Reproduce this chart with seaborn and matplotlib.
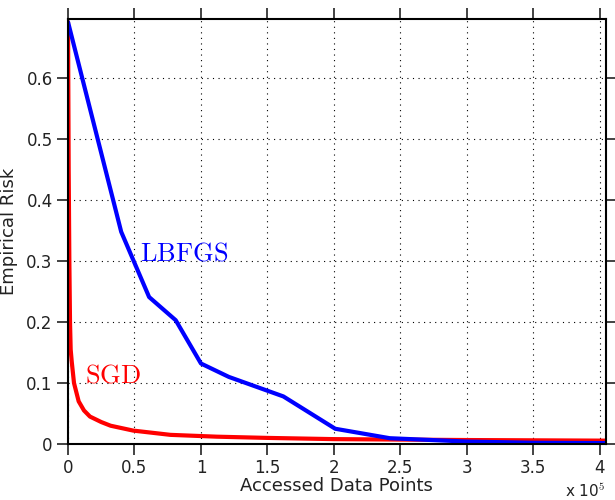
import numpy as np
import pandas as pd
import matplotlib
matplotlib.use("Agg")
import matplotlib.pyplot as plt
import seaborn as sns

# accessed data points in units of 1e5, empirical risk
lbfgs_x = [0.0, 0.40, 0.61, 0.81, 1.0, 1.21, 1.62, 2.01, 2.42, 3.0, 3.5, 4.05]
lbfgs_y = [0.692, 0.348, 0.241, 0.203, 0.132, 0.110, 0.078, 0.025, 0.0095, 0.004, 0.002, 0.0015]

sgd_x = [0.0, 0.005, 0.01, 0.015, 0.02, 0.028, 0.045, 0.08, 0.12, 0.165, 0.25,
         0.32, 0.49, 0.77, 1.12, 1.5, 2.0, 3.0, 4.05]
sgd_y = [0.692, 0.45, 0.30, 0.20, 0.155, 0.135, 0.10, 0.07, 0.055, 0.045, 0.036,
         0.030, 0.022, 0.015, 0.012, 0.010, 0.008, 0.0065, 0.0055]

x_ticks = [0, 0.5, 1, 1.5, 2, 2.5, 3, 3.5, 4]
x_ticklabels = ["0", "0.5", "1", "1.5", "2", "2.5", "3", "3.5", "4"]
y_ticks = [0, 0.1, 0.2, 0.3, 0.4, 0.5, 0.6]
y_ticklabels = ["0", "0.1", "0.2", "0.3", "0.4", "0.5", "0.6"]

sns.set_theme(style="white")
plt.rcParams['font.family'] = ['DejaVu Sans']
plt.rcParams['mathtext.fontset'] = 'cm'

df = pd.concat([
    pd.DataFrame({'x': sgd_x, 'risk': sgd_y, 'method': 'SGD'}),
    pd.DataFrame({'x': lbfgs_x, 'risk': lbfgs_y, 'method': 'LBFGS'}),
], ignore_index=True)

fig = plt.figure(figsize=(6.15, 5.0), dpi=100)
ax = fig.add_axes([0.1106, 0.112, 0.8744, 0.85])

sns.lineplot(data=df, x='x', y='risk', hue='method', sort=False, estimator=None,
             palette={'SGD': '#ff0000', 'LBFGS': '#0000ff'}, linewidth=3,
             legend=False, ax=ax)

ax.set_xlim(0, 4.045)
ax.set_ylim(0, 0.697)
ax.set_xticks(x_ticks)
ax.set_xticklabels(x_ticklabels)
ax.set_yticks(y_ticks)
ax.set_yticklabels(y_ticklabels)

ax.grid(True, color='black', linestyle=(0, (1, 4)), linewidth=0.8)
for s in ax.spines.values():
    s.set_visible(True)
    s.set_color('black')
    s.set_linewidth(1.5)
ax.tick_params(axis='both', which='both', direction='out', length=8, width=1.2,
               color='#222222', labelsize=12, labelcolor='#222222',
               top=True, right=True, bottom=True, left=True, pad=3)

ax.set_xlabel('Accessed Data Points', fontsize=13, color='#222222', labelpad=0)
ax.set_ylabel('Empirical Risk', fontsize=13, color='#222222', labelpad=6)

ax.text(0.54, 0.313, r'$\mathrm{LBFGS}$', color='#0000ff', fontsize=19, va='center', ha='left')
ax.text(0.125, 0.113, r'$\mathrm{SGD}$', color='#ff0000', fontsize=19, va='center', ha='left')
ax.text(1.0, -0.112, r'x 10$^5$', transform=ax.transAxes, ha='right', va='center',
        fontsize=11, color='#222222')

fig.savefig('out.png', dpi=100)
